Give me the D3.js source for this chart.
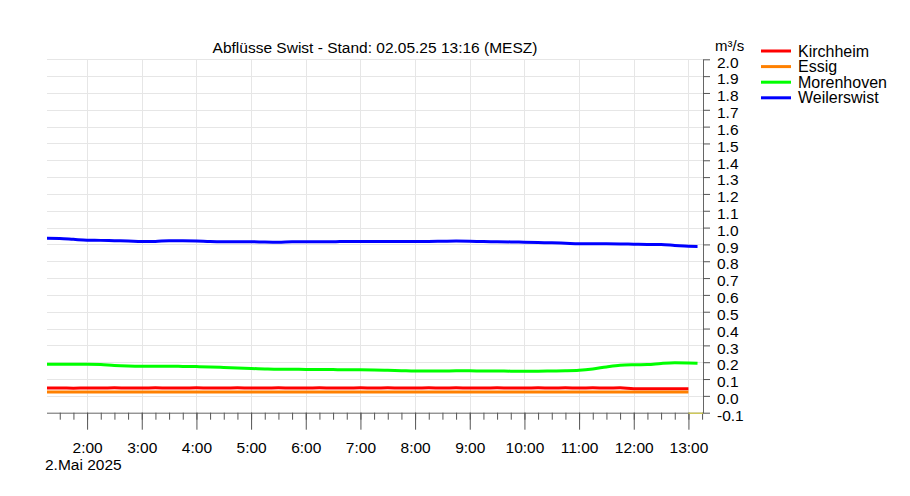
<!DOCTYPE html>
<html>
<head>
<meta charset="utf-8">
<script src="https://cdn.jsdelivr.net/npm/d3@7"></script>
<style>
  html, body { margin: 0; padding: 0; background: #fff; }
  svg { display: block; font-family: "Liberation Sans", Arial, Helvetica, sans-serif; }
</style>
</head>
<body>
<svg id="chart" width="910" height="496"></svg>
<script>
// ---- data ----
const titleText = "Abflüsse Swist - Stand: 02.05.25 13:16 (MESZ)";
const unitText = "m³/s";
const dateLabel = "2.Mai 2025";
const seriesNames = ["Kirchheim", "Essig", "Morenhoven", "Weilerswist"];
const seriesColors = ["#ff0000", "#ff8000", "#00ff00", "#0000ff"];

const times = [
  "01:15","01:30","01:45","02:00","02:15","02:30","02:45","03:00",
  "03:15","03:30","03:45","04:00","04:15","04:30","04:45","05:00",
  "05:15","05:30","05:45","06:00","06:15","06:30","06:45","07:00",
  "07:15","07:30","07:45","08:00","08:15","08:30","08:45","09:00",
  "09:15","09:30","09:45","10:00","10:15","10:30","10:45","11:00",
  "11:15","11:30","11:45","12:00","12:15","12:30","12:45","13:00","13:10"
];

const kirchheim = [
  0.046,0.047,0.046,0.047,0.047,0.048,0.047,0.047,
  0.048,0.047,0.047,0.048,0.047,0.047,0.048,0.047,
  0.047,0.048,0.047,0.047,0.048,0.047,0.047,0.048,
  0.047,0.048,0.047,0.047,0.048,0.047,0.048,0.047,
  0.047,0.048,0.047,0.047,0.048,0.047,0.048,0.047,
  0.048,0.047,0.048,0.043,0.043,0.043,0.043,0.043,null
];
const essig = [
  0.023,0.023,0.023,0.023,0.023,0.023,0.023,0.023,
  0.023,0.023,0.023,0.023,0.023,0.023,0.023,0.023,
  0.023,0.023,0.023,0.023,0.023,0.023,0.023,0.023,
  0.023,0.023,0.023,0.023,0.023,0.023,0.023,0.023,
  0.023,0.023,0.023,0.023,0.023,0.023,0.023,0.023,
  0.023,0.023,0.023,0.023,0.023,0.023,0.023,0.023,null
];
const morenhoven = [
  0.188,0.188,0.188,0.188,0.186,0.180,0.177,0.176,
  0.176,0.176,0.175,0.174,0.172,0.169,0.166,0.163,
  0.160,0.158,0.158,0.157,0.157,0.156,0.155,0.155,
  0.154,0.152,0.150,0.148,0.148,0.148,0.149,0.149,
  0.148,0.148,0.147,0.147,0.147,0.148,0.149,0.152,
  0.160,0.172,0.182,0.185,0.186,0.193,0.197,0.196,0.194
];
const weilerswist = [
  0.936,0.935,0.930,0.925,0.924,0.922,0.920,0.917,
  0.918,0.922,0.922,0.921,0.917,0.916,0.916,0.916,
  0.914,0.913,0.916,0.916,0.916,0.916,0.918,0.918,
  0.918,0.917,0.917,0.918,0.918,0.919,0.920,0.919,
  0.917,0.916,0.915,0.913,0.911,0.910,0.907,0.904,
  0.904,0.904,0.903,0.901,0.900,0.899,0.894,0.889,0.888
];
const seriesValues = [kirchheim, essig, morenhoven, weilerswist];

const yTickValues = [-0.1,0.0,0.1,0.2,0.3,0.4,0.5,0.6,0.7,0.8,0.9,1.0,1.1,1.2,1.3,1.4,1.5,1.6,1.7,1.8,1.9,2.0];
const yTickLabels = ["-0.1","0.0","0.1","0.2","0.3","0.4","0.5","0.6","0.7","0.8","0.9","1.0","1.1","1.2","1.3","1.4","1.5","1.6","1.7","1.8","1.9","2.0"];
const xTickLabels = ["2:00","3:00","4:00","5:00","6:00","7:00","8:00","9:00","10:00","11:00","12:00","13:00"];
const xStart = "01:16", xEnd = "13:16";

// ---- layout ----
const L = 47, R = 703, T = 59.3, B = 412.7;
const svg = d3.select("#chart");
const parse = s => { const [h, m] = s.split(":").map(Number); return new Date(2025, 4, 2, h, m); };

const x = d3.scaleTime().domain([parse(xStart), parse(xEnd)]).range([L, R]);
const y = d3.scaleLinear().domain([-0.1, 2.0]).range([B, T]);

const majorTicks = xTickLabels.map(parse);
const minorTicks = d3.timeMinute.every(15).range(parse(xStart), parse(xEnd));

// grid
const grid = svg.append("g");
grid.selectAll("line.h").data(yTickValues.filter(v => v > -0.05)).join("line")
  .attr("x1", L).attr("x2", R)
  .attr("y1", d => Math.round(y(d)) + 0.5).attr("y2", d => Math.round(y(d)) + 0.5)
  .attr("stroke", "#e6e6e6").attr("stroke-width", 1);
grid.selectAll("line.v").data(majorTicks).join("line")
  .attr("x1", d => Math.round(x(d)) + 0.5).attr("x2", d => Math.round(x(d)) + 0.5)
  .attr("y1", T).attr("y2", B)
  .attr("stroke", "#e6e6e6").attr("stroke-width", 1);

// clip
svg.append("clipPath").attr("id", "plotclip").append("rect")
  .attr("x", L).attr("y", T - 5).attr("width", R - L).attr("height", B - T + 5);

// lines
const parsedTimes = times.map(parse);
const lineGen = d3.line()
  .defined(d => d.v !== null)
  .x(d => x(d.t)).y(d => y(d.v))
  .curve(d3.curveMonotoneX);
const lines = svg.append("g").attr("clip-path", "url(#plotclip)");
seriesValues.forEach((vals, i) => {
  const data = vals.map((v, j) => ({ t: parsedTimes[j], v: v }));
  lines.append("path").datum(data)
    .attr("d", lineGen)
    .attr("fill", "none")
    .attr("stroke", seriesColors[i])
    .attr("stroke-width", 3)
    .attr("stroke-linejoin", "round");
});

// bottom axis: minor ticks
const axisCol = "#555";
const minorAxis = d3.axisBottom(x).tickValues(minorTicks).tickSize(7).tickSizeOuter(0).tickFormat("");
const gMinor = svg.append("g").attr("transform", `translate(0,${B})`).call(minorAxis);
gMinor.select(".domain").attr("stroke", "#666").attr("d", `M${L},0.5H${R}`);
gMinor.selectAll(".tick line").attr("stroke", axisCol);

// bottom axis: major ticks with labels
const majorAxis = d3.axisBottom(x).tickValues(majorTicks).tickSize(17).tickSizeOuter(0)
  .tickFormat((d, i) => xTickLabels[i]).tickPadding(12);
const gMajor = svg.append("g").attr("transform", `translate(0,${B})`).call(majorAxis);
gMajor.select(".domain").remove();
gMajor.selectAll(".tick line").attr("stroke", axisCol);
gMajor.selectAll(".tick text").attr("fill", "#000").attr("font-size", "15.5px")
  .attr("font-family", "'Liberation Sans', Arial, sans-serif");

// "now" marker on the axis
svg.append("line")
  .attr("x1", x(parse("13:00"))).attr("x2", R)
  .attr("y1", B + 0.5).attr("y2", B + 0.5)
  .attr("stroke", "#e8e040").attr("stroke-width", 1);

// right axis
const yAxis = d3.axisRight(y).tickValues(yTickValues).tickSize(7).tickSizeOuter(0)
  .tickFormat((d, i) => yTickLabels[i]).tickPadding(7);
const gY = svg.append("g").attr("transform", `translate(${R},0)`).call(yAxis);
gY.select(".domain").attr("stroke", "#666");
gY.selectAll(".tick line").attr("stroke", axisCol);
gY.selectAll(".tick text").attr("fill", "#000").attr("font-size", "15.5px")
  .attr("dy", "0.5em")
  .attr("font-family", "'Liberation Sans', Arial, sans-serif");

// date label
svg.append("text").attr("x", 45).attr("y", 470).attr("font-size", "15.5px").text(dateLabel);

// title
svg.append("text").attr("x", (L + R) / 2).attr("y", 53).attr("text-anchor", "middle")
  .attr("font-size", "15.5px").text(titleText);

// unit
svg.append("text").attr("x", 715).attr("y", 51).attr("font-size", "15px").text(unitText);

// legend
const leg = svg.append("g");
seriesNames.forEach((name, i) => {
  const cy = 51 + i * 15.6;
  leg.append("line").attr("x1", 761).attr("x2", 791).attr("y1", cy).attr("y2", cy)
    .attr("stroke", seriesColors[i]).attr("stroke-width", 3);
  leg.append("text").attr("x", 798).attr("y", cy + 5.6).attr("font-size", "16px").text(name);
});
</script>
</body>
</html>
